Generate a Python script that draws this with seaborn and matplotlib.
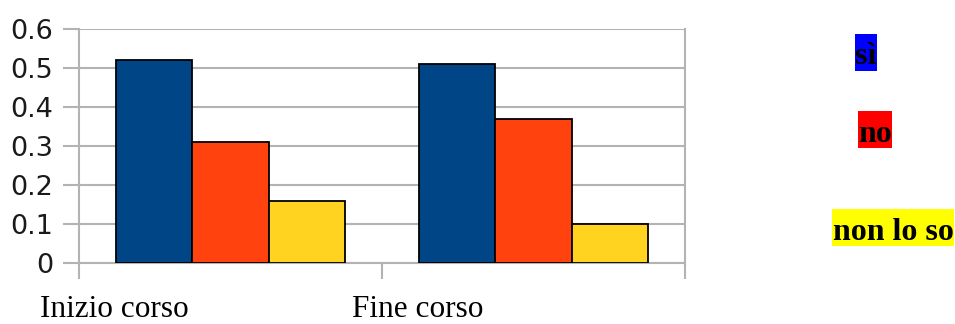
import matplotlib
matplotlib.use("Agg")
import matplotlib.pyplot as plt
from matplotlib.patches import Rectangle
import seaborn as sns
import pandas as pd

# Survey answers, share of respondents per moment of the course
momenti = ["Inizio corso", "Fine corso"]
risposte = ["sì", "no", "non lo so"]
si_vals = [0.52, 0.51]
no_vals = [0.31, 0.37]
nonloso_vals = [0.16, 0.10]
y_ticks = [0, 0.1, 0.2, 0.3, 0.4, 0.5, 0.6]
y_tick_labels = ["0", "0.1", "0.2", "0.3", "0.4", "0.5", "0.6"]

bar_colors = ["#004586", "#ff420e", "#ffd320"]
legend_bg = ["#0000ff", "#ff0000", "#ffff00"]

df = pd.DataFrame({
    "momento": momenti * 3,
    "risposta": [r for r in risposte for _ in momenti],
    "quota": si_vals + no_vals + nonloso_vals,
})

sns.set_theme(style="white")
plt.rcParams["font.family"] = ["DejaVu Sans"]

W, H = 955, 324
fig = plt.figure(figsize=(W / 100, H / 100), dpi=100)
ax = fig.add_axes([79 / W, 1 - 263 / H, 606 / W, 234 / H])

sns.barplot(data=df, x="momento", y="quota", hue="risposta", order=momenti,
            hue_order=risposte, palette=bar_colors, saturation=1,
            width=0.756, gap=0, edgecolor="black", linewidth=1.3,
            legend=False, ax=ax, zorder=3)

grid_col = "#b3b3b3"
ax.set_xlim(-0.5, 1.5)
ax.set_ylim(0, 0.6)
ax.set_yticks(y_ticks)
ax.set_yticklabels(y_tick_labels, fontsize=19.5, color="#1a1a1a")
ax.set_xticks([-0.5, 0.5, 1.5])
ax.set_xticklabels([])
ax.set_xlabel("")
ax.set_ylabel("")
ax.yaxis.grid(True, color=grid_col, linewidth=1.5, zorder=0)
ax.set_axisbelow(True)
ax.tick_params(axis="both", length=11.5, width=1.5, color=grid_col)
ax.tick_params(axis="x", direction="out", bottom=True)
ax.tick_params(axis="y", direction="out", left=True, pad=7)
for side in ["left", "right", "bottom", "top"]:
    ax.spines[side].set_color(grid_col)
    ax.spines[side].set_linewidth(1.5)
ax.spines["top"].set_visible(False)

# Category captions below the chart
serif = ["Liberation Serif", "DejaVu Serif"]
fig.text(40 / W, 7 / H, momenti[0], fontsize=22.5, family=serif,
         ha="left", va="baseline", color="black")
fig.text(352 / W, 7 / H, momenti[1], fontsize=22.5, family=serif,
         ha="left", va="baseline", color="black")

# Legend as highlighted words on the right: (left, top, width) of each box
legend_boxes = [(855, 34, 22), (858, 111, 34), (832, 209, 122)]
box_h = 37
for label, bg, (bx, by, bw) in zip(risposte, legend_bg, legend_boxes):
    fig.patches.append(Rectangle((bx / W, 1 - (by + box_h) / H), bw / W,
                                 box_h / H, transform=fig.transFigure,
                                 facecolor=bg, edgecolor="none", zorder=1))
    fig.text((bx + bw / 2) / W, 1 - (by + 30.5) / H, label, fontsize=23,
             family=serif, fontweight="bold", ha="center", va="baseline",
             color="black", zorder=2)

fig.savefig("out.png", dpi=100)
